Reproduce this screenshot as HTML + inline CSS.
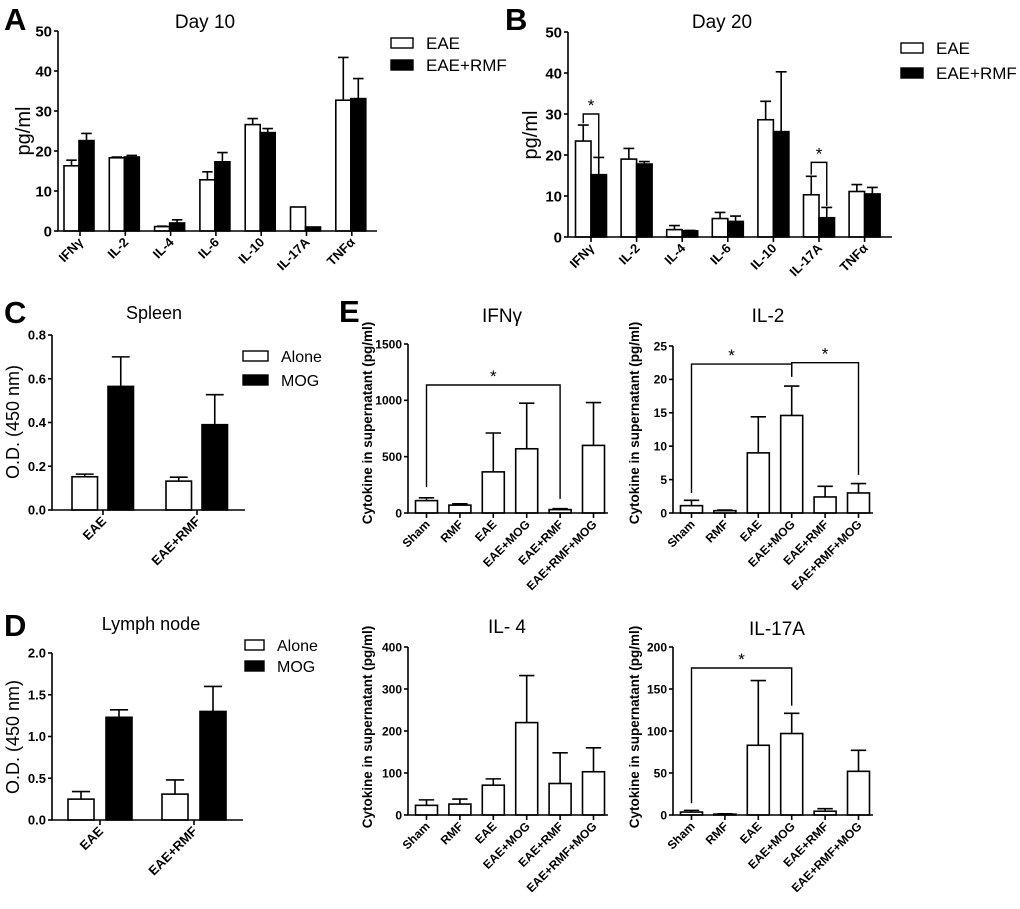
<!DOCTYPE html>
<html><head><meta charset="utf-8"><style>
body{margin:0;background:#fff}
svg{display:block;font-family:"Liberation Sans",Arial,sans-serif}
</style></head><body>
<svg id="fig" width="1020" height="909" viewBox="0 0 1020 909" xmlns="http://www.w3.org/2000/svg"></svg>
<script>
// ---------- DATA ----------
const abCats = ["IFNγ","IL-2","IL-4","IL-6","IL-10","IL-17A","TNFα"];
const aTicks = [0,10,20,30,40,50];
const aEae = [16.3,18.3,1.1,12.8,26.6,6.0,32.7];
const aEaeErr = [1.4,0.2,0.1,2.0,1.5,0,10.7];
const aRmf = [22.6,18.5,2.0,17.3,24.6,1.0,33.1];
const aRmfErr = [1.8,0.4,0.8,2.3,1.0,0,5.0];
const bTicks = [0,10,20,30,40,50];
const bEae = [23.4,19.0,1.8,4.5,28.6,10.3,11.1];
const bEaeErr = [3.9,2.6,1.0,1.5,4.5,4.5,1.7];
const bRmf = [15.2,17.8,1.5,3.8,25.7,4.7,10.5];
const bRmfErr = [4.2,0.6,0.1,1.3,14.6,2.5,1.6];
const cdCats = ["EAE","EAE+RMF"];
const cTicks = [0,0.2,0.4,0.6,0.8];
const cAlone = [0.152,0.132];
const cAloneErr = [0.012,0.018];
const cMog = [0.565,0.39];
const cMogErr = [0.135,0.137];
const dTicks = [0,0.5,1.0,1.5,2.0];
const dAlone = [0.25,0.31];
const dAloneErr = [0.09,0.17];
const dMog = [1.23,1.30];
const dMogErr = [0.09,0.30];
const eCats = ["Sham","RMF","EAE","EAE+MOG","EAE+RMF","EAE+RMF+MOG"];
const ifnTicks = [0,500,1000,1500];
const ifnVals = [110,70,365,570,30,600];
const ifnErr = [25,12,345,405,8,380];
const il2Ticks = [0,5,10,15,20,25];
const il2Vals = [1.1,0.35,9.0,14.6,2.4,3.0];
const il2Err = [0.8,0.1,5.4,4.4,1.6,1.4];
const il4Ticks = [0,100,200,300,400];
const il4Vals = [23,26,71,220,75,103];
const il4Err = [13,12,15,112,73,57];
const il17Ticks = [0,50,100,150,200];
const il17Vals = [3.5,1,83,97,4.5,52];
const il17Err = [2,0.5,77,24,3,25];

const NS="http://www.w3.org/2000/svg";
const fig=document.getElementById('fig');
function mk(tag,attrs,parent){const e=document.createElementNS(NS,tag);for(const k in attrs)e.setAttribute(k,attrs[k]);(parent||fig).appendChild(e);return e;}
function txt(s,attrs,parent){const t=mk('text',attrs,parent);t.textContent=s;return t;}
function fmt(v,d){return d?v.toFixed(d):String(v);}

function chart(name,L,cats,ticks,series,brackets){
  const g=mk('g',{});
  
  
  const max=ticks[ticks.length-1];
  const y=v=>L.yBot-(v/max)*(L.yBot-L.yTop);
  const cx=i=>L.c0+i*L.dc;
  series.forEach((s,si)=>{
    s.vals.forEach((v,i)=>{
      const x=cx(i)+L.offsets[si];
      const r=mk('rect',{x:x,y:y(v),width:L.bw,height:L.yBot-y(v),fill:s.fill,stroke:'#000','stroke-width':1.6},g);
      
      
      const e=s.errs[i];
      if(e>0){
        const mx=x+L.bw/2, cw=L.bw*0.35;
        const p=mk('path',{d:`M${mx},${y(v)}V${y(v+e)}M${mx-cw},${y(v+e)}H${mx+cw}`,stroke:'#000','stroke-width':1.6,fill:'none'},g);
        
        
      }
    });
  });
  const ax=mk('path',{d:`M${L.ax},${L.yTop}V${L.yBot}H${L.xEnd}`,stroke:'#000','stroke-width':1.6,fill:'none'},g);
  
  
  ticks.forEach(t=>{
    mk('line',{x1:L.ax-4,x2:L.ax,y1:y(t),y2:y(t),stroke:'#000','stroke-width':1.6},g);
    const tl=txt(fmt(t,L.dec),{x:L.ax-6,y:y(t)+L.tfs*0.36,'text-anchor':'end','font-size':L.tfs,'font-weight':'bold'},g);
    
    
  });
  cats.forEach((c,i)=>{
    const tx=cx(i)+L.tickOff;
    mk('line',{x1:tx,x2:tx,y1:L.yBot,y2:L.yBot+5,stroke:'#000','stroke-width':1.6},g);
    const t=txt(c,{x:tx+4,y:L.yBot+12,'text-anchor':'end','font-size':L.cfs,'font-weight':'bold',transform:`rotate(-45 ${tx+4} ${L.yBot+12})`},g);
    
    
  });
  (brackets||[]).forEach(b=>{
    const x1=cx(b.i)+(b.oi||0)+L.barMid, x2=cx(b.j)+(b.oj||0)+L.barMid;
    const p=mk('path',{d:`M${x1},${y(b.l)}V${y(b.lev)}H${x2}V${y(b.r)}`,stroke:'#000','stroke-width':1.4,fill:'none'},g);
    
    
    const s=txt('*',{x:(x1+x2)/2+(b.sdx||0),y:y(b.lev)-3,'text-anchor':'middle','font-size':17},g);
    
    
  });
  return g;
}
function label(s,attrs,name){const t=txt(s,attrs);return t;}
function legend(x,y1,y2,w,h,t1,t2,fs,name){
  const a=mk('rect',{x:x,y:y1,width:w,height:h,fill:'#fff',stroke:'#000','stroke-width':1.4});
  
  const b=mk('rect',{x:x,y:y2,width:w,height:h,fill:'#000',stroke:'#000','stroke-width':1.4});
  
  label(t1,{x:x+w+13,y:y1+h+1,'font-size':fs},name+'-label-1');
  label(t2,{x:x+w+13,y:y2+h+1,'font-size':fs},name+'-label-2');
}

// Panel A
chart('panel-a-chart',{ax:58,xEnd:377,yTop:31,yBot:231,c0:80,dc:45.3,bw:15,offsets:[-16,-1],tickOff:0,barMid:-8.5,tfs:15,cfs:13},abCats,aTicks,
 [{key:'eae',vals:aEae,errs:aEaeErr,fill:'#fff'},{key:'eae-rmf',vals:aRmf,errs:aRmfErr,fill:'#000'}]);
label('A',{x:4,y:30,'font-size':31,'font-weight':'bold'},'panel-a-letter');
label('Day 10',{x:205,y:28,'text-anchor':'middle','font-size':19},'panel-a-title');
label('pg/ml',{x:30,y:131,'text-anchor':'middle','font-size':20,transform:'rotate(-90 30 131)'},'panel-a-y-title');
legend(391,38,60,22,10,'EAE','EAE+RMF',17,'panel-a-legend');

// Panel B
chart('panel-b-chart',{ax:568,xEnd:892,yTop:32,yBot:237,c0:591,dc:45.6,bw:15.5,offsets:[-15.5,0],tickOff:0,barMid:-7.75,tfs:15,cfs:13},abCats,bTicks,
 [{key:'eae',vals:bEae,errs:bEaeErr,fill:'#fff'},{key:'eae-rmf',vals:bRmf,errs:bRmfErr,fill:'#000'}],
 [{i:0,j:0,oi:0,oj:15.5,lev:30,l:27.7,r:19.6},{i:5,j:5,oi:0,oj:15.5,lev:18.2,l:15.2,r:7.6}]);
label('B',{x:505,y:30,'font-size':31,'font-weight':'bold'},'panel-b-letter');
label('Day 20',{x:722,y:28,'text-anchor':'middle','font-size':19},'panel-b-title');
label('pg/ml',{x:537,y:135,'text-anchor':'middle','font-size':20,transform:'rotate(-90 537 135)'},'panel-b-y-title');
legend(901,43,68,22,10,'EAE','EAE+RMF',17,'panel-b-legend');

// Panel C
chart('panel-c-chart',{ax:52,xEnd:245,yTop:335,yBot:510,c0:103,dc:94,bw:25.5,offsets:[-31,5],tickOff:0,barMid:0,tfs:13,cfs:13,dec:1},cdCats,cTicks,
 [{key:'alone',vals:cAlone,errs:cAloneErr,fill:'#fff'},{key:'mog',vals:cMog,errs:cMogErr,fill:'#000'}]);
label('C',{x:4,y:323,'font-size':31,'font-weight':'bold'},'panel-c-letter');
label('Spleen',{x:154,y:319,'text-anchor':'middle','font-size':18},'panel-c-title');
label('O.D. (450 nm)',{x:19,y:422,'text-anchor':'middle','font-size':18,transform:'rotate(-90 19 422)'},'panel-c-y-title');
legend(243,351,375,25,10,'Alone','MOG',16,'panel-c-legend');

// Panel D
chart('panel-d-chart',{ax:52,xEnd:243,yTop:653,yBot:820,c0:100,dc:94,bw:26,offsets:[-32,6],tickOff:0,barMid:0,tfs:13,cfs:13,dec:1},cdCats,dTicks,
 [{key:'alone',vals:dAlone,errs:dAloneErr,fill:'#fff'},{key:'mog',vals:dMog,errs:dMogErr,fill:'#000'}]);
label('D',{x:4,y:636,'font-size':31,'font-weight':'bold'},'panel-d-letter');
label('Lymph node',{x:151,y:630,'text-anchor':'middle','font-size':18},'panel-d-title');
label('O.D. (450 nm)',{x:19,y:737,'text-anchor':'middle','font-size':18,transform:'rotate(-90 19 737)'},'panel-d-y-title');
legend(245,640,661,19,10,'Alone','MOG',16,'panel-d-legend');

// Panel E
label('E',{x:339,y:322,'font-size':31,'font-weight':'bold'},'panel-e-letter');
const eL=(ax,yTop,yBot)=>({ax:ax,xEnd:ax+200,yTop:yTop,yBot:yBot,c0:ax+18.5,dc:33.4,bw:22,offsets:[-11],tickOff:0,barMid:0,tfs:12,cfs:12});
chart('panel-e-ifng-chart',eL(408,344,513),eCats,ifnTicks,[{key:'ifng',vals:ifnVals,errs:ifnErr,fill:'#fff'}],
 [{i:0,j:4,lev:1136,l:230,r:125}]);
label('IFNγ',{x:502,y:322,'text-anchor':'middle','font-size':19},'panel-e-ifng-title');
label('Cytokine in supernatant (pg/ml)',{x:372,y:423,'text-anchor':'middle','font-size':13.5,'font-weight':'bold',transform:'rotate(-90 372 423)'},'panel-e-ifng-y-title');
chart('panel-e-il2-chart',eL(673,346,513),eCats,il2Ticks,[{key:'il2',vals:il2Vals,errs:il2Err,fill:'#fff'}],
 [{i:0,j:3,lev:22.3,l:3.0,r:20.4,sdx:-10},{i:3,j:5,lev:22.5,l:20.4,r:5.7}]);
label('IL-2',{x:768,y:322,'text-anchor':'middle','font-size':19},'panel-e-il2-title');
label('Cytokine in supernatant (pg/ml)',{x:639,y:423,'text-anchor':'middle','font-size':13.5,'font-weight':'bold',transform:'rotate(-90 639 423)'},'panel-e-il2-y-title');
chart('panel-e-il4-chart',eL(408,647,815),eCats,il4Ticks,[{key:'il4',vals:il4Vals,errs:il4Err,fill:'#fff'}]);
label('IL- 4',{x:507,y:633,'text-anchor':'middle','font-size':19},'panel-e-il4-title');
label('Cytokine in supernatant (pg/ml)',{x:372,y:727,'text-anchor':'middle','font-size':13.5,'font-weight':'bold',transform:'rotate(-90 372 727)'},'panel-e-il4-y-title');
chart('panel-e-il17a-chart',eL(673,647,815),eCats,il17Ticks,[{key:'il17a',vals:il17Vals,errs:il17Err,fill:'#fff'}],
 [{i:0,j:3,lev:175,l:14,r:130}]);
label('IL-17A',{x:777,y:635,'text-anchor':'middle','font-size':19},'panel-e-il17a-title');
label('Cytokine in supernatant (pg/ml)',{x:639,y:727,'text-anchor':'middle','font-size':13.5,'font-weight':'bold',transform:'rotate(-90 639 727)'},'panel-e-il17a-y-title');
</script>
</body></html>
